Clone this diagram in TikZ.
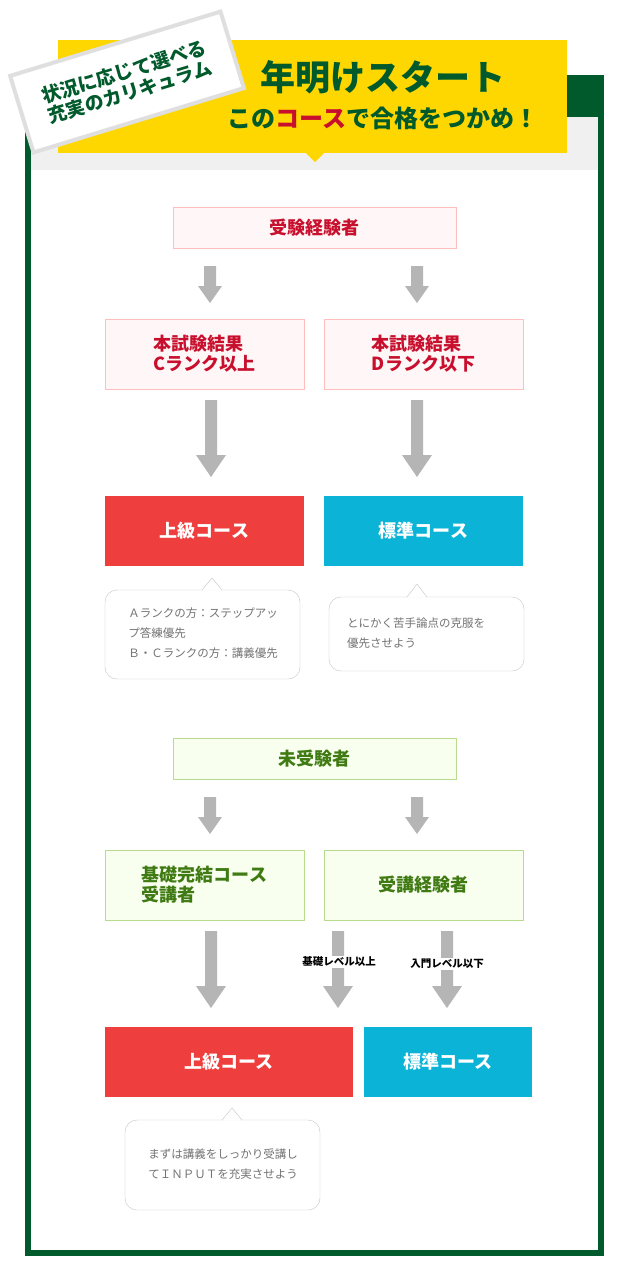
\documentclass[tikz,border=0pt]{standalone}
\usepackage{fontspec}
\setmainfont{Noto Sans CJK JP}
\begin{document}
\begin{tikzpicture}[x=1pt,y=-1pt,
  lbl/.style={font=\bfseries\fontsize{18}{20}\selectfont,align=left},
  pinkbox/.style={draw=red!25,fill=red!3,minimum height=41pt,text=titred,lbl},
  pinkbig/.style={draw=red!25,fill=red!3,minimum width=199pt,minimum height=70pt,text=titred,lbl},
  grbox/.style={draw=grb,fill=grf,minimum height=41pt,text=grt,lbl},
  grbig/.style={draw=grb,fill=grf,minimum width=199pt,minimum height=70pt,text=grt,lbl},
  course/.style={minimum height=70pt,text=white,font=\bfseries\fontsize{18}{20}\selectfont},
  note/.style={font=\fontsize{11.5}{20}\selectfont,text=gray!90!black,align=left},
  bub/.style={draw=gray!45,fill=white,rounded corners=12pt}]
\definecolor{dg}{HTML}{005A2B}
\definecolor{yel}{HTML}{FFD700}
\definecolor{titred}{HTML}{C8102E}
\definecolor{crs}{HTML}{EE3E3E}
\definecolor{cy}{HTML}{0BB3D6}
\definecolor{grb}{HTML}{B8DC8E}
\definecolor{grf}{HTML}{F9FFEF}
\definecolor{grt}{HTML}{3F7A12}
\definecolor{arrg}{HTML}{B5B5B5}
\useasboundingbox (0,0) rectangle (629,1283);
\fill[white] (0,0) rectangle (629,1283);
% frame
\fill[dg] (25,75) rectangle (604,1256);
\fill[white] (31,117) rectangle (598,1250);
\fill[gray!12] (31,117) rectangle (598,170);
% banner
\fill[yel] (58,40) rectangle (567,153);
\fill[yel] (306,153) -- (315,162) -- (324,153) -- cycle;
\node[text=dg,font=\bfseries\fontsize{35}{38}\selectfont] (t1) at (383,77) {年明けスタート};
\node[text=dg,font=\bfseries\fontsize{24}{28}\selectfont] (t2) at (383,118) {この\textcolor{titred}{コース}で合格をつかめ！};
\node[rotate=17,draw=gray!25,line width=4pt,fill=white,minimum width=220pt,minimum height=80pt,text=dg,font=\bfseries\fontsize{19}{21}\selectfont,align=center] (lab) at (127,82) {状況に応じて選べる\\充実のカリキュラム};
\newcommand\smarr[2]{\fill[arrg] (#1-6,#2) rectangle (#1+6,#2+20) (#1-12,#2+20) -- (#1+12,#2+20) -- (#1,#2+37) -- cycle;}
\newcommand\bigarr[2]{\fill[arrg] (#1-6,#2) rectangle (#1+6,#2+55) (#1-15,#2+55) -- (#1+15,#2+55) -- (#1,#2+77) -- cycle;}
\newcommand\bubble[6]{\draw[bub] (#1,#2) rectangle (#3,#4);
  \fill[white] (#5-10,#2+0.6) -- (#5,#6) -- (#5+10,#2+0.6) -- cycle;
  \draw[gray!45] (#5-10,#2) -- (#5,#6) -- (#5+10,#2);}
% section 1
\node[pinkbox,minimum width=283pt] (a) at (314.5,227.5) {受験経験者};
\smarr{210}{266}\smarr{417}{266}
\node[pinkbig] (c) at (204.5,354) {本試験結果\\Cランク以上};
\node[pinkbig] (d) at (423.5,354) {本試験結果\\Dランク以下};
\bigarr{211}{400}\bigarr{417}{400}
\node[course,fill=crs,minimum width=199pt] (j1) at (204.5,531) {上級コース};
\node[course,fill=cy,minimum width=199pt] (h1) at (423.5,531) {標準コース};
\bubble{105}{590}{300}{679}{212}{578}
\node[note] (n1) at (203,633) {Ａランクの方：ステップアッ\\プ答練優先\\Ｂ・Ｃランクの方：講義優先};
\bubble{329}{597}{524}{671}{417}{584}
\node[note] (n2) at (416,633) {とにかく苦手論点の克服を\\優先させよう};
% section 2
\node[grbox,minimum width=283pt] (b) at (314.5,758.5) {未受験者};
\smarr{210}{797}\smarr{417}{797}
\node[grbig] (e) at (204.5,885) {基礎完結コース\\受講者};
\node[grbig] (f) at (423.5,885) {受講経験者};
\bigarr{211}{931}\bigarr{338}{931}\bigarr{447}{931}
\node[fill=white,inner sep=1pt,font=\bfseries\fontsize{10.5}{12}\selectfont] (l1) at (339,962) {基礎レベル以上};
\node[fill=white,inner sep=1pt,font=\bfseries\fontsize{10.5}{12}\selectfont] (l2) at (447,964) {入門レベル以下};
\node[course,fill=crs,minimum width=248pt] (j2) at (229,1062) {上級コース};
\node[course,fill=cy,minimum width=168pt] (h2) at (448,1062) {標準コース};
\bubble{125}{1120}{320}{1210}{232}{1108}
\node[note] (n3) at (223,1164) {まずは講義をしっかり受講し\\てＩＮＰＵＴを充実させよう};
\end{tikzpicture}
\end{document}
